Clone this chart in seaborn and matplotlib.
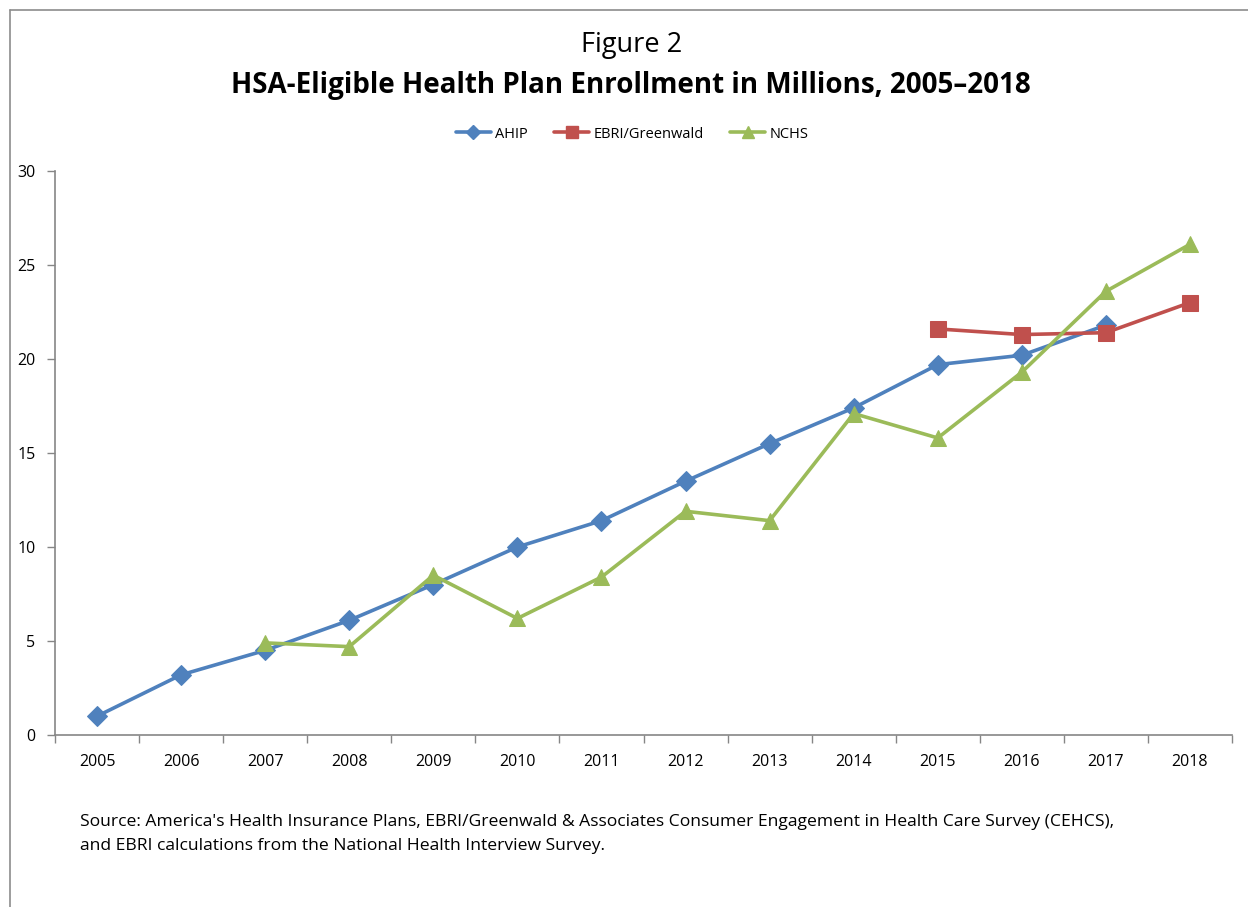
import numpy as np
import pandas as pd
import matplotlib
matplotlib.use("Agg")
import matplotlib.pyplot as plt
from matplotlib.lines import Line2D
from matplotlib.ticker import FixedLocator, NullFormatter
import seaborn as sns

years = [2005, 2006, 2007, 2008, 2009, 2010, 2011, 2012, 2013, 2014, 2015, 2016, 2017, 2018]
ahip = [1.0, 3.2, 4.5, 6.1, 8.0, 10.0, 11.4, 13.5, 15.5, 17.4, 19.7, 20.2, 21.8, None]
ebri = [None, None, None, None, None, None, None, None, None, None, 21.6, 21.3, 21.4, 23.0]
nchs = [None, None, 4.9, 4.7, 8.5, 6.2, 8.4, 11.9, 11.4, 17.1, 15.8, 19.3, 23.6, 26.1]

series_names = ["AHIP", "EBRI/Greenwald", "NCHS"]
series_values = [ahip, ebri, nchs]
colors = {"AHIP": "#4F81BD", "EBRI/Greenwald": "#C0504D", "NCHS": "#9BBB59"}
markers = {"AHIP": "D", "EBRI/Greenwald": "s", "NCHS": "^"}
msizes = {"AHIP": 10, "EBRI/Greenwald": 11, "NCHS": 12}

rows = []
for name, vals in zip(series_names, series_values):
    for i, (yr, v) in enumerate(zip(years, vals)):
        if v is not None:
            rows.append({"pos": i, "year": yr, "value": v, "series": name})
df = pd.DataFrame(rows)

sns.set_theme(style="white")
plt.rcParams["font.family"] = ["Open Sans", "DejaVu Sans"]
plt.rcParams["text.color"] = "black"
plt.rcParams["xtick.color"] = "black"
plt.rcParams["ytick.color"] = "black"

fig = plt.figure(figsize=(12.48, 9.07), dpi=100)
ax = fig.add_axes([55 / 1248, 1 - 735 / 907, (1232 - 55) / 1248, (735 - 171) / 907])

for name in series_names:
    sub = df[df["series"] == name]
    sns.lineplot(data=sub, x="pos", y="value", ax=ax, color=colors[name],
                 marker=markers[name], markersize=msizes[name],
                 markeredgecolor=colors[name], linewidth=2.6, label=name,
                 legend=False, sort=True)

ax.set_xlim(-0.5, len(years) - 0.5)
ax.set_ylim(0, 30)
ax.set_yticks([0, 5, 10, 15, 20, 25, 30])
ax.set_xticks(range(len(years)))
ax.set_xticklabels([str(y) for y in years])
ax.xaxis.set_minor_locator(FixedLocator(np.arange(-0.5, len(years), 1.0)))
ax.xaxis.set_minor_formatter(NullFormatter())
ax.tick_params(axis="x", which="major", length=0, pad=14, labelsize=11.5, labelcolor="black")
ax.tick_params(axis="x", which="minor", length=6, width=1, color="#868686", direction="out", bottom=True)
ax.tick_params(axis="y", which="major", length=6, width=1, color="#868686", direction="out",
               left=True, labelsize=11.5, pad=8, labelcolor="black")
ax.set_xlabel("")
ax.set_ylabel("")
for side in ["top", "right"]:
    ax.spines[side].set_visible(False)
for side in ["left", "bottom"]:
    ax.spines[side].set_color("#868686")
    ax.spines[side].set_linewidth(1.2)
ax.grid(False)

# Legend handles
handles = [Line2D([0], [0], color=colors[n], marker=markers[n], markersize=msizes[n] * 0.75,
                  markeredgecolor=colors[n], linewidth=2.6) for n in series_names]
fig.legend(handles, series_names, loc="center", bbox_to_anchor=(632 / 1248, 1 - 134 / 907),
           ncol=3, frameon=False, fontsize=10.5, handlelength=2.4, columnspacing=1.8,
           handletextpad=0.3, labelcolor="black")

fig.text(632 / 1248, 1 - 45 / 907, "Figure 2", ha="center", va="center", fontsize=19.5,
         color="black")
fig.text(631 / 1248, 1 - 86 / 907, "HSA-Eligible Health Plan Enrollment in Millions, 2005\u20132018",
         ha="center", va="center", fontsize=20, fontweight="bold", color="black")

fig.text(80 / 1248, 1 - 822 / 907,
         "Source: America's Health Insurance Plans, EBRI/Greenwald & Associates Consumer Engagement in Health Care Survey (CEHCS),",
         ha="left", va="center", fontsize=12.6, color="black")
fig.text(80 / 1248, 1 - 846 / 907,
         "and EBRI calculations from the National Health Interview Survey.",
         ha="left", va="center", fontsize=12.6, color="black")

# Chart area frame edges
fig.add_artist(Line2D([10 / 1248, 1], [1 - 10 / 907, 1 - 10 / 907], color="#8c8c8c", linewidth=1.2,
                      transform=fig.transFigure))
fig.add_artist(Line2D([10 / 1248, 10 / 1248], [0, 1 - 10 / 907], color="#8c8c8c", linewidth=1.2,
                      transform=fig.transFigure))

fig.savefig("out.png", dpi=100, facecolor="white")
